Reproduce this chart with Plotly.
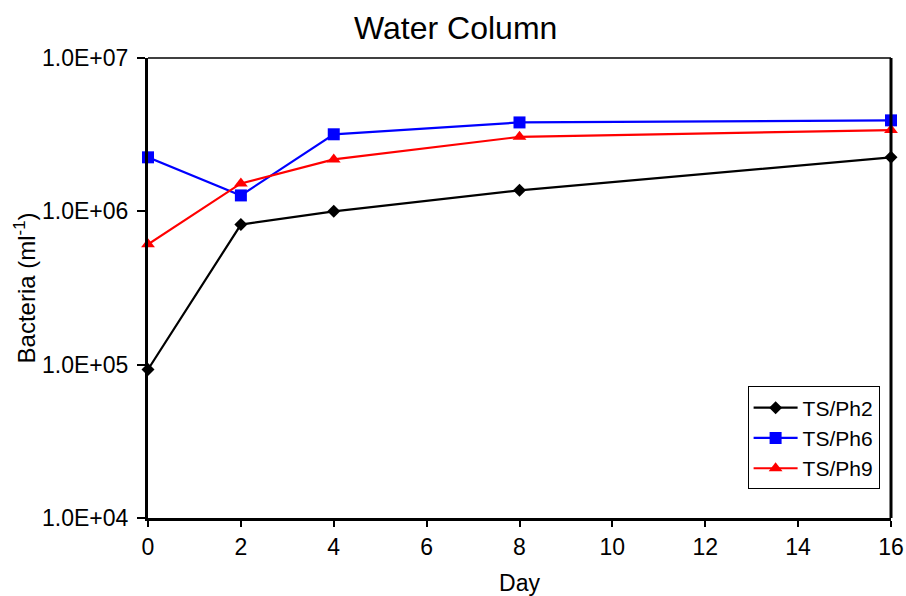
import plotly.graph_objects as go

days = [0, 2, 4, 8, 16]
ph2 = [9.3e4, 8.2e5, 1.0e6, 1.37e6, 2.25e6]
ph6 = [2.25e6, 1.27e6, 3.18e6, 3.8e6, 3.92e6]
ph9 = [6.1e5, 1.52e6, 2.18e6, 3.06e6, 3.39e6]
series_names = ["TS/Ph2", "TS/Ph6", "TS/Ph9"]
y_tickvals = [1e4, 1e5, 1e6, 1e7]
y_ticktext = ["1.0E+04", "1.0E+05", "1.0E+06", "1.0E+07"]
x_tickvals = [0, 2, 4, 6, 8, 10, 12, 14, 16]

font_family = "Liberation Sans, Arial, sans-serif"

fig = go.Figure()
styles = [
    ("black", "diamond", 10),
    ("blue", "square", 12),
    ("red", "triangle-up", 12),
]
for name, vals, (col, sym, sz) in zip(series_names, [ph2, ph6, ph9], styles):
    fig.add_trace(go.Scatter(
        x=days, y=vals, name=name, mode="lines+markers",
        line=dict(color=col, width=2.2),
        marker=dict(color=col, symbol=sym, size=sz),
        cliponaxis=False,
    ))

fig.update_layout(
    width=906, height=596,
    margin=dict(l=148, r=15, t=58, b=78),
    paper_bgcolor="white", plot_bgcolor="white",
    font=dict(family=font_family, size=23, color="black"),
    title=dict(text="Water Column", x=0.503, xanchor="center", y=0.953, yanchor="middle",
               font=dict(size=32, family=font_family, color="black")),
    legend=dict(x=0.807, y=0.062, xanchor="left", yanchor="bottom",
                bordercolor="black", borderwidth=1, bgcolor="white",
                font=dict(size=21, family=font_family), tracegroupgap=0,
                itemwidth=44),
    showlegend=True,
)
fig.update_xaxes(
    range=[0, 16], tickvals=x_tickvals, showgrid=False, zeroline=False,
    showline=True, linecolor="black", linewidth=3, automargin=False,
    ticks="outside", ticklen=6, tickwidth=2, tickcolor="black",
    tickfont=dict(size=23),
    title=dict(text="Day", font=dict(size=23), standoff=20),
)
fig.update_yaxes(
    type="log", range=[4, 7], tickvals=y_tickvals, ticktext=y_ticktext,
    showgrid=False, zeroline=False, automargin=False,
    showline=True, linecolor="black", linewidth=3,
    ticks="outside", ticklen=8, tickwidth=2, tickcolor="black",
    ticklabelstandoff=4,
    tickfont=dict(size=23),
    title=dict(text="Bacteria (ml<sup>-1</sup>)", font=dict(size=24), standoff=0),
)
# plot frame: thin top, thick right
fig.add_shape(type="line", xref="paper", yref="paper", x0=0, x1=1, y0=1, y1=1,
              line=dict(color="black", width=1.5))
fig.add_shape(type="line", xref="paper", yref="paper", x0=1, x1=1, y0=0, y1=1,
              line=dict(color="black", width=3))

fig.write_html("out.html")
